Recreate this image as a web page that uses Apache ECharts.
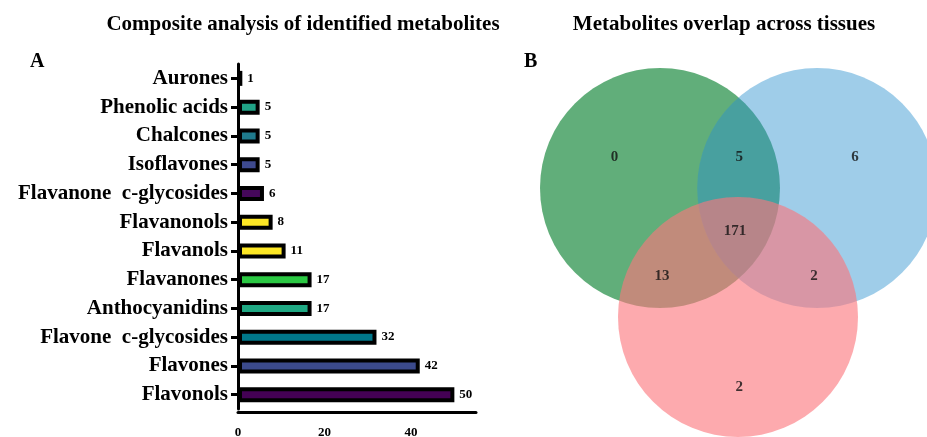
<!DOCTYPE html>
<html>
<head>
<meta charset="utf-8">
<script src="https://cdn.jsdelivr.net/npm/echarts@6/dist/echarts.min.js"></script>
<style>html,body{margin:0;padding:0;background:#fff}#c{width:927px;height:437px}</style>
</head>
<body>
<div id="c"></div>
<script>
// ---- Panel A data (bottom to top) ----
var categories = ['Flavonols', 'Flavones', 'Flavone  c-glycosides', 'Anthocyanidins', 'Flavanones', 'Flavanols', 'Flavanonols', 'Flavanone  c-glycosides', 'Isoflavones', 'Chalcones', 'Phenolic acids', 'Aurones'];
var counts = [50, 42, 32, 17, 17, 11, 8, 6, 5, 5, 5, 1];
var barColors = ['#440154', '#3b4a8c', '#00778a', '#1fa883', '#2bc843', '#fde725', '#fde725', '#45085a', '#3e4a8f', '#1f7a8c', '#20a386', '#440154'];
var xTicks = [0, 20, 40];

// ---- Panel B data (Venn layout in radius units) ----
var vennSets = ['Set1', 'Set2', 'Set3'];
var vennCenters = [[0, 0], [1.31, 0], [0.65, -1.075]];
var vennRadius = 1;
var vennColors = ['rgba(0,125,40,0.62)', 'rgba(42,144,207,0.45)', 'rgba(252,118,124,0.62)'];
var regionLabels = ['0', '5', '6', '171', '13', '2', '2'];
var regionPos = [[-0.38, 0.26], [0.66, 0.26], [1.625, 0.26], [0.625, -0.36], [0.017, -0.735], [1.283, -0.735], [0.66, -1.66]];

var serif = '"Liberation Serif","Times New Roman",serif';
var chart = echarts.init(document.getElementById('c'), null, {renderer: 'canvas'});

var barData = counts.map(function (v, i) {
  return {value: v, itemStyle: {color: barColors[i]}};
});

chart.setOption({
  animation: false,
  title: [
    {text: 'Composite analysis of identified metabolites', left: 298, top: 9, textAlign: 'center',
     textStyle: {fontFamily: serif, fontWeight: 'bold', fontSize: 21, color: '#000'}},
    {text: 'Metabolites overlap across tissues', left: 719, top: 9, textAlign: 'center',
     textStyle: {fontFamily: serif, fontWeight: 'bold', fontSize: 21, color: '#000'}},
    {text: 'A', left: 25, top: 47, textStyle: {fontFamily: serif, fontWeight: 'bold', fontSize: 20, color: '#000'}},
    {text: 'B', left: 519, top: 47, textStyle: {fontFamily: serif, fontWeight: 'bold', fontSize: 20, color: '#000'}}
  ],
  grid: [
    {left: 238, top: 64, width: 238, height: 345, outerBoundsMode: 'none', containLabel: false},
    {left: 492, top: 32, width: 432, height: 408, outerBoundsMode: 'none', containLabel: false}
  ],
  xAxis: [
    {type: 'value', gridIndex: 0, min: 0, max: 55, interval: 20, offset: 3,
     axisLine: {show: true, lineStyle: {color: '#000', width: 3}},
     axisTick: {show: false}, splitLine: {show: false},
     axisLabel: {showMaxLabel: false, margin: 14, fontFamily: serif, fontWeight: 'bold', fontSize: 13, color: '#000',
       formatter: function (v) { return xTicks.indexOf(v) >= 0 ? String(v) : ''; }}},
    {type: 'value', gridIndex: 1, min: -1.4, max: 2.2, show: false}
  ],
  yAxis: [
    {type: 'category', gridIndex: 0, data: categories,
     axisLine: {show: true, lineStyle: {color: '#000', width: 3}},
     axisTick: {show: true, alignWithLabel: true, length: 7, lineStyle: {color: '#000', width: 3}},
     axisLabel: {margin: 10, fontFamily: serif, fontWeight: 'bold', fontSize: 21, color: '#000'}},
    {type: 'value', gridIndex: 1, min: -2.1, max: 1.3, show: false}
  ],
  series: [
    {type: 'bar', xAxisIndex: 0, yAxisIndex: 0, data: barData, barWidth: 15,
     itemStyle: {borderColor: '#000', borderWidth: 4},
     label: {show: true, position: 'right', distance: 5, fontFamily: serif, fontWeight: 'bold', fontSize: 13, color: '#000'}},
    {type: 'custom', xAxisIndex: 1, yAxisIndex: 1, clip: false,
     data: vennCenters.map(function (c, i) { return [c[0], c[1], vennRadius, i]; }),
     renderItem: function (params, api) {
       var p = api.coord([api.value(0), api.value(1)]);
       var r = api.size([api.value(2), api.value(2)])[0];
       return {type: 'circle', shape: {cx: p[0], cy: p[1], r: r},
               style: {fill: vennColors[api.value(3)], stroke: null}};
     }},
    {type: 'scatter', xAxisIndex: 1, yAxisIndex: 1, symbolSize: 0,
     data: regionPos.map(function (p, i) { return {value: [p[0], p[1]], name: regionLabels[i]}; }),
     label: {show: true, position: 'inside', formatter: '{b}', fontFamily: serif, fontWeight: 'bold', fontSize: 15, color: '#111'}}
  ]
});
</script>
</body>
</html>
